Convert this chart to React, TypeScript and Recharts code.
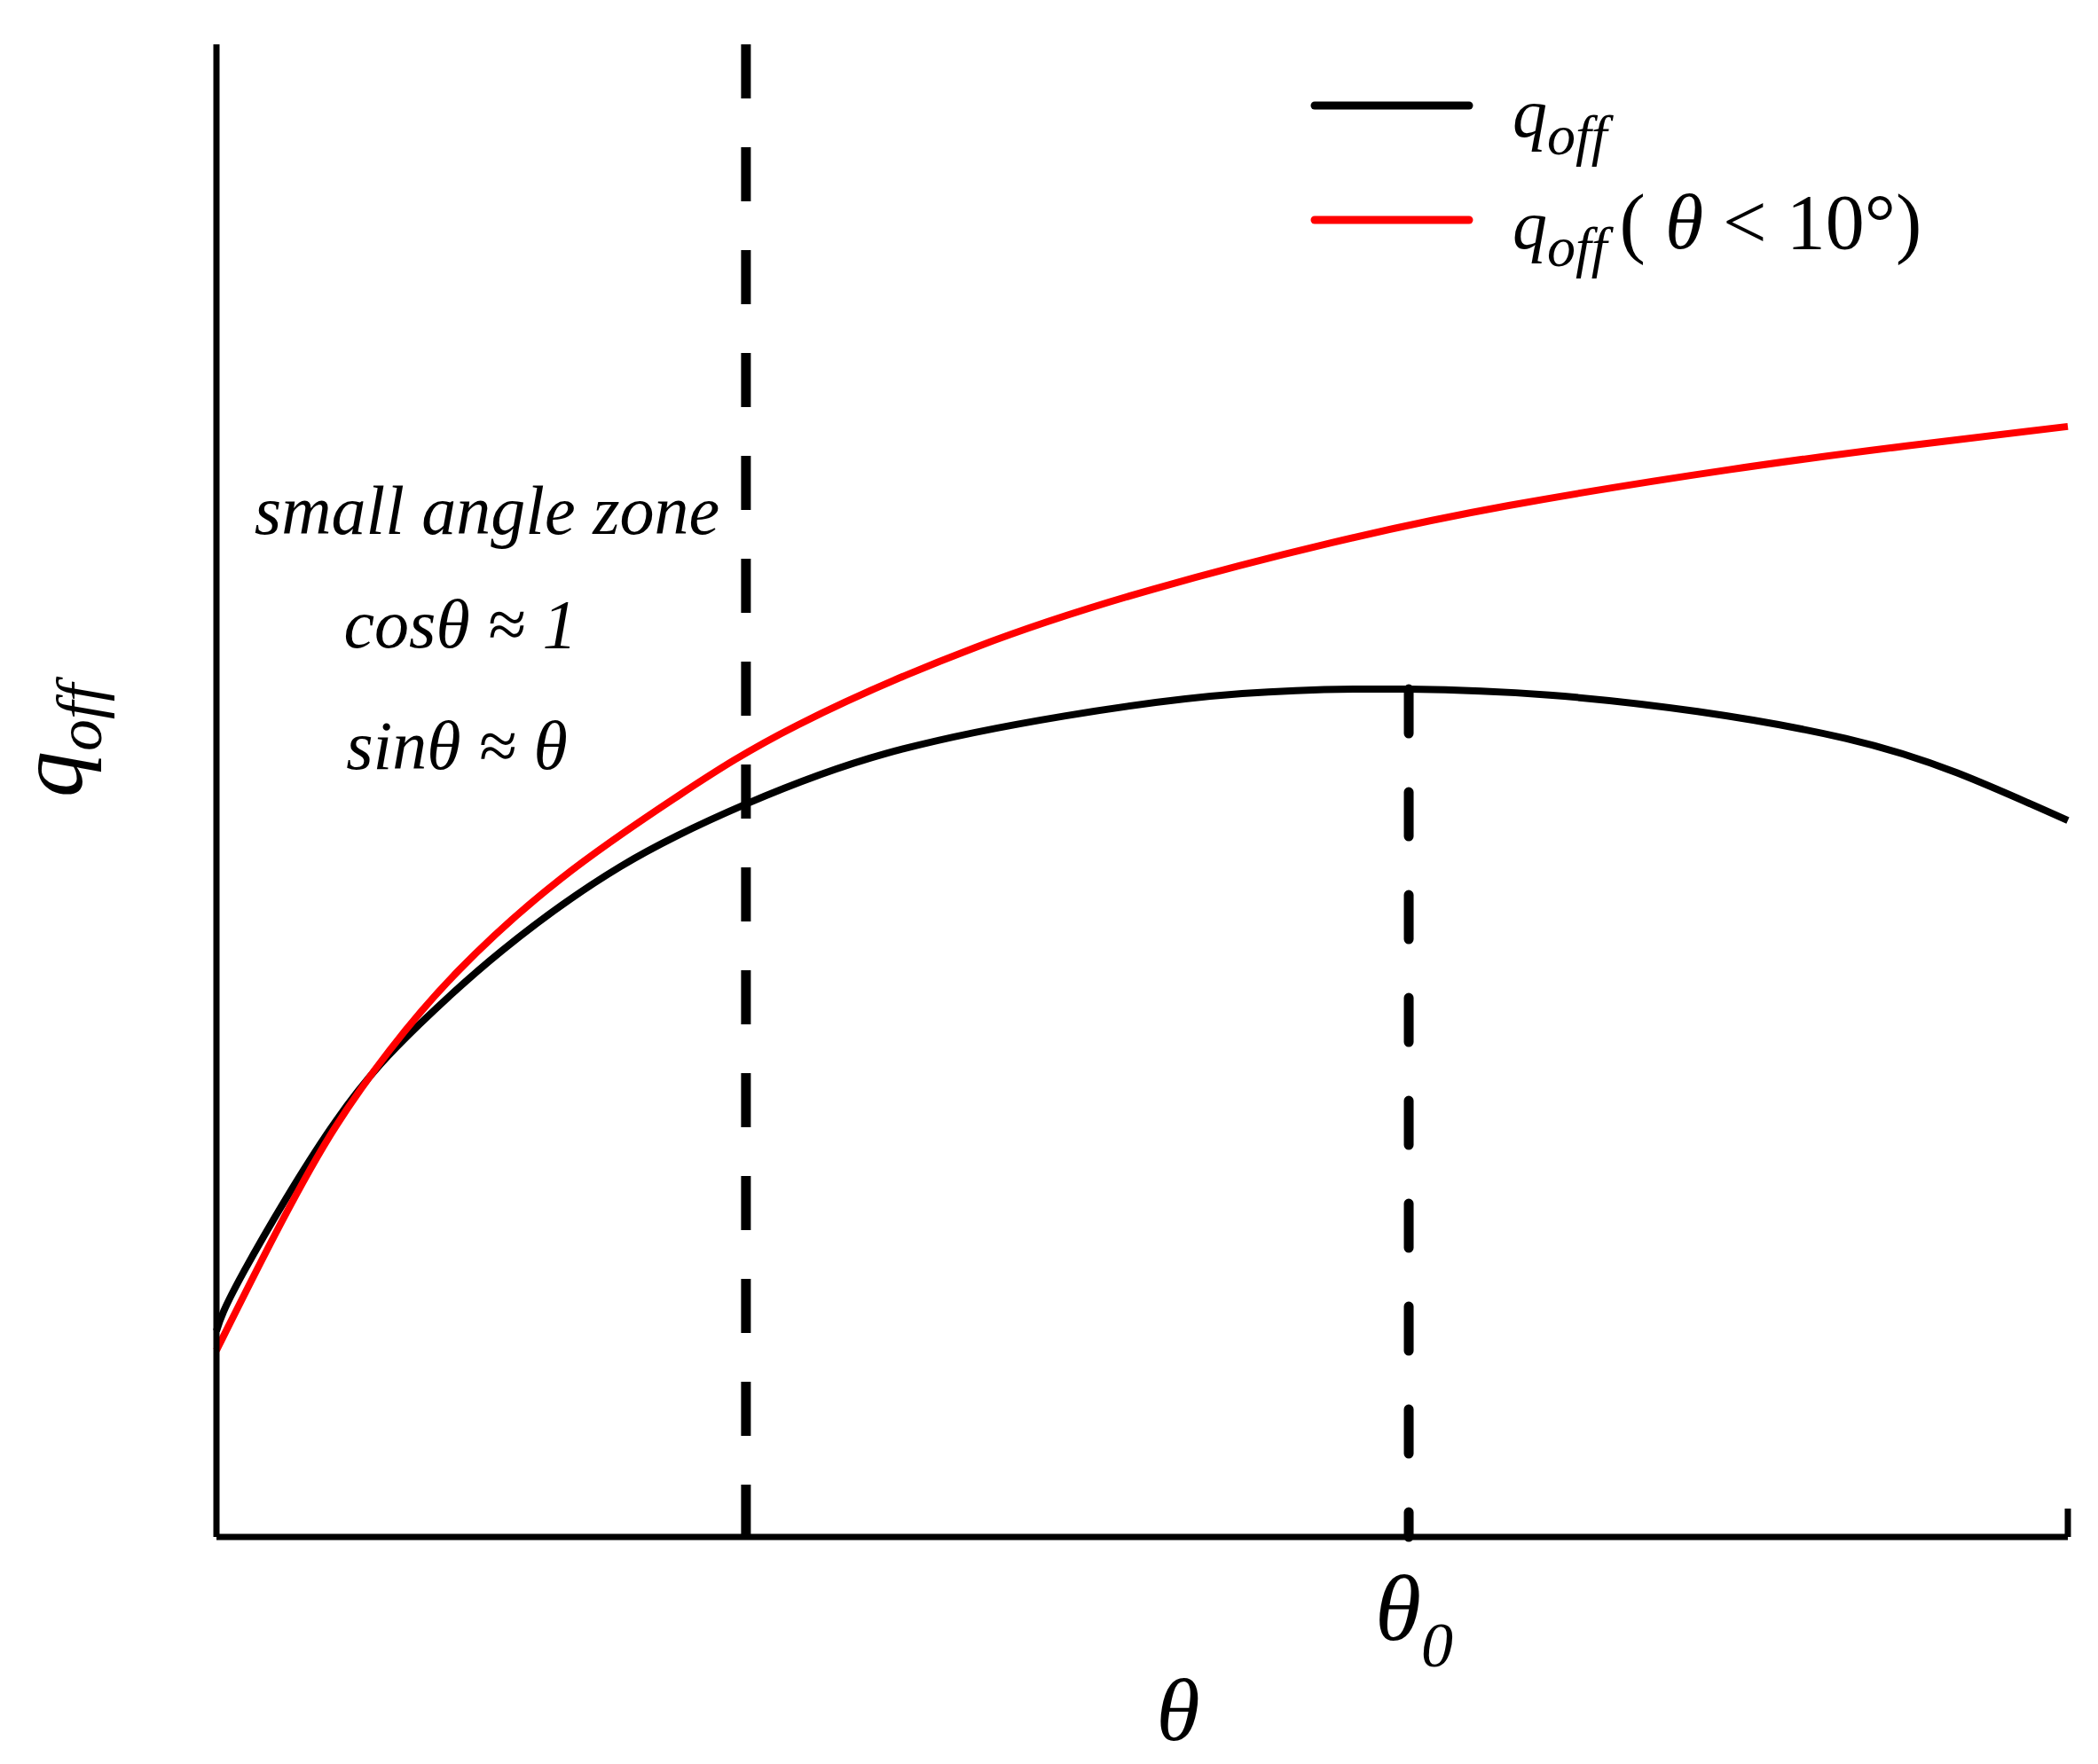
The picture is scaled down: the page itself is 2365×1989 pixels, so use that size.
import { LineChart, Line, XAxis, YAxis, ReferenceLine, Legend } from 'recharts'

// theta runs 0..100 across the axis (arbitrary units), q_off 0..100 up the axis
const THETA_EXACT = [0, 1.49, 6.47, 10.93, 15.44, 21.8, 28.6, 36.2, 45.8, 55.4, 64.4, 72.0, 80.0, 88.0, 94.0, 100]
const Q_OFF = [13.8, 17.8, 27.9, 34.3, 39.3, 44.9, 49.1, 52.5, 55.0, 56.5, 56.8, 56.4, 55.3, 53.5, 51.2, 48.0]

// small angle approximation (theta < 10 deg)
const THETA_SMALL = [0, 2.97, 6.14, 9.35, 13.04, 18.6, 25.0, 31.4, 41.0, 50.6, 60.2, 69.8, 81.7, 91.3, 100]
const Q_OFF_SMALL = [12.5, 19.8, 26.9, 32.6, 37.9, 44.1, 49.7, 54.4, 59.6, 63.5, 66.6, 69.1, 71.5, 73.1, 74.4]

const ZONE_EDGE = 28.6
const PEAK = Math.max(...Q_OFF)
const THETA0 = THETA_EXACT[Q_OFF.indexOf(PEAK)]

const exactData = THETA_EXACT.map((t, i) => ({ theta: t, q: Q_OFF[i] }))
const smallData = THETA_SMALL.map((t, i) => ({ theta: t, q: Q_OFF_SMALL[i] }))

const FONT = '"Liberation Serif", "Times New Roman", serif'

const ThetaTick = (props: any) => {
    const { x, y } = props
    return (
        <text x={x} y={y} fontFamily={FONT} fill="#000" textAnchor="middle">
            <tspan dx={6} dy={108} fontSize={106} fontStyle="italic">θ</tspan>
            <tspan dy={30} fontSize={72} fontStyle="italic">0</tspan>
        </text>
    )
}

const legendLabels = [
    <text x={249} y={94} fontFamily={FONT} fill="#000">
        <tspan fontSize={78} fontStyle="italic">q</tspan>
        <tspan fontSize={64} fontStyle="italic" dy={20}>off</tspan>
    </text>,
    <text x={249} y={91} fontFamily={FONT} fill="#000">
        <tspan fontSize={78} fontStyle="italic">q</tspan>
        <tspan fontSize={64} fontStyle="italic" dy={20}>off</tspan>
        <tspan fontSize={88} dx={14} dy={-20}>( </tspan>
        <tspan fontSize={88} fontStyle="italic">θ</tspan>
        <tspan fontSize={88}> &lt; 10°)</tspan>
    </text>,
]

const renderLegend = (props: any) => {
    const { payload } = props
    return (
        <svg width={900} height={280}>
            {payload.map((entry: any, i: number) => (
                <g key={i} transform={`translate(0, ${i * 129})`}>
                    <line x1={26} x2={200} y1={59} y2={59} stroke={entry.color} strokeWidth={9} strokeLinecap="round" />
                    {legendLabels[i]}
                </g>
            ))}
        </svg>
    )
}

export default function App() {
    return (
        <div style={{ position: 'absolute', left: 0, top: 0, width: 2365, height: 1989, background: '#fff' }}>
            <LineChart
                width={2365}
                height={1989}
                margin={{ top: 50, right: 34, bottom: 255, left: 244 }}
            >
                <XAxis
                    type="number"
                    dataKey="theta"
                    domain={[0, 100]}
                    ticks={[THETA0]}
                    tick={<ThetaTick />}
                    tickLine={false}
                    height={1}
                    stroke="#000"
                    strokeWidth={7}
                    axisLine={{ stroke: '#000', strokeWidth: 7 }}
                />
                <YAxis
                    type="number"
                    dataKey="q"
                    domain={[0, 100]}
                    ticks={[100]}
                    tick={false}
                    mirror
                    tickSize={32}
                    width={1}
                    stroke="#000"
                    strokeWidth={7}
                    tickLine={{ stroke: '#000', strokeWidth: 7 }}
                    axisLine={{ stroke: '#000', strokeWidth: 7 }}
                />
                <ReferenceLine
                    segment={[{ x: 100, y: 0 }, { x: 100, y: 1.9 }]}
                    stroke="#000"
                    strokeWidth={7}
                />
                <ReferenceLine
                    segment={[{ x: ZONE_EDGE, y: 100 }, { x: ZONE_EDGE, y: 0 }]}
                    stroke="#000"
                    strokeWidth={11}
                    strokeDasharray="61 55"
                />
                <ReferenceLine
                    segment={[{ x: THETA0, y: PEAK }, { x: THETA0, y: 0 }]}
                    stroke="#000"
                    strokeWidth={11}
                    strokeDasharray="50 66"
                    strokeLinecap="round"
                />
                <Line data={exactData} type="natural" dataKey="q" name="qoff" stroke="#000000" strokeWidth={8} dot={false} isAnimationActive={false} />
                <Line data={smallData} type="natural" dataKey="q" name="qoff small" stroke="#ff0000" strokeWidth={8} dot={false} isAnimationActive={false} />
                <Legend
                    layout="horizontal"
                    verticalAlign="middle"
                    align="center"
                    content={renderLegend}
                    wrapperStyle={{ left: 1456, top: 60, width: 900, height: 280 }}
                />
                <g fontFamily={FONT} fill="#000" fontStyle="italic">
                    <text x={549} y={602} fontSize={78} textAnchor="middle">small angle zone</text>
                    <text x={519} y={730} fontSize={78} textAnchor="middle">cosθ ≈ 1</text>
                    <text x={515} y={867} fontSize={78} textAnchor="middle">sinθ ≈ θ</text>
                    <text x={1328} y={1962} fontSize={100} textAnchor="middle">θ</text>
                    <text transform="translate(92, 835) rotate(-90)" textAnchor="middle">
                        <tspan fontSize={104}>q</tspan>
                        <tspan fontSize={72} dy={22}>off</tspan>
                    </text>
                </g>
            </LineChart>
        </div>
    )
}
